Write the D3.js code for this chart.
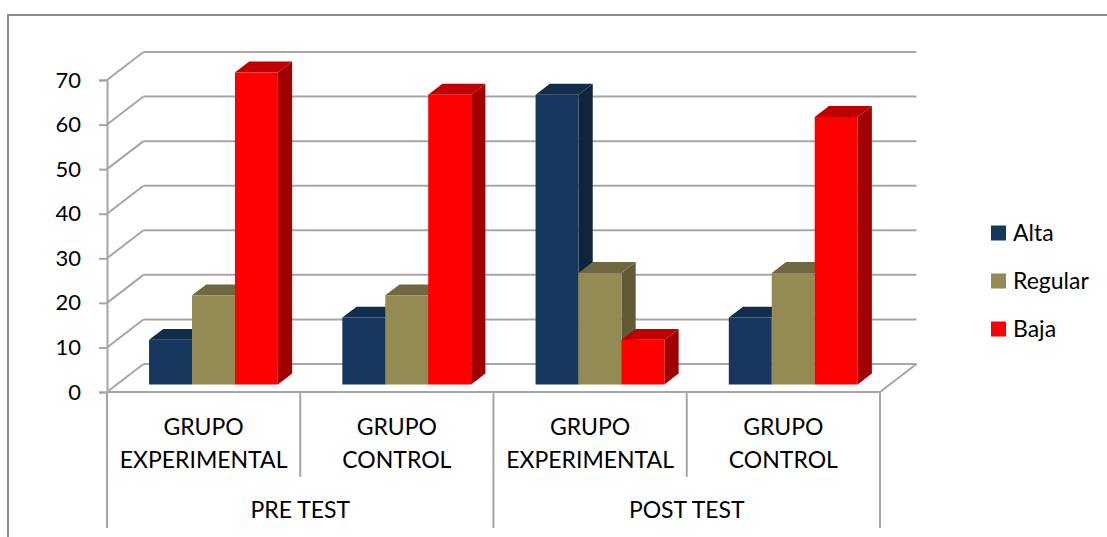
<!DOCTYPE html>
<html>
<head>
<meta charset="utf-8">
<script src="https://cdn.jsdelivr.net/npm/d3@7"></script>
<style>
  body { margin: 0; background: #fff; }
  svg { display: block; font-family: Lato, "Open Sans", sans-serif; }
</style>
</head>
<body>
<svg id="chart" width="1107" height="537"></svg>
<script>
// data
const categoryLabels = [["GRUPO", "EXPERIMENTAL"], ["GRUPO", "CONTROL"], ["GRUPO", "EXPERIMENTAL"], ["GRUPO", "CONTROL"]];
const groupLabels = ["PRE TEST", "POST TEST"];
const seriesNames = ["Alta", "Regular", "Baja"];
const alta = [10, 15, 65, 15];
const regular = [20, 20, 25, 25];
const baja = [70, 65, 10, 60];
const yTicks = [0, 10, 20, 30, 40, 50, 60, 70];

const seriesValues = [alta, regular, baja];
const colors = {
    Alta: { front: "#17375e", top: "#122c4c", side: "#0f243e" },
    Regular: { front: "#948a54", top: "#6f6841", side: "#615a37" },
    Baja: { front: "#ff0000", top: "#c00000", side: "#a00000" }
};

const svg = d3.select("#chart");
const gridColor = "#a6a6a6";

// depth projection
const DX = 36.5, DY = -28;
function proj(x, y, z) { return [x + DX * z, y + DY * z]; }

const x = d3.scaleBand().domain(d3.range(categoryLabels.length)).range([107, 880]);
const xs = d3.scaleBand().domain(seriesNames).range([0, x.bandwidth()]).paddingInner(0).paddingOuter(0.75);
const y = d3.scaleLinear().domain([0, 70]).range([392, 80]);

// outer border
svg.append("path")
    .attr("d", "M8,537 L8,15 L1107,15")
    .attr("fill", "none").attr("stroke", "#8a8a8a").attr("stroke-width", 2);

// back wall gridlines and left wall diagonals
const x0 = x.range()[0], x1 = x.range()[1];
yTicks.forEach(t => {
    const a = proj(x0, y(t), 1), b = proj(x1, y(t), 1);
    svg.append("line").attr("x1", a[0]).attr("y1", a[1]).attr("x2", b[0]).attr("y2", b[1])
        .attr("stroke", gridColor).attr("stroke-width", 2);
    svg.append("line").attr("x1", x0).attr("y1", y(t)).attr("x2", a[0]).attr("y2", a[1])
        .attr("stroke", gridColor).attr("stroke-width", 2);
});

// floor right edge
const fr = proj(x1, y(0), 1);
svg.append("line").attr("x1", x1).attr("y1", y(0)).attr("x2", fr[0]).attr("y2", fr[1])
    .attr("stroke", gridColor).attr("stroke-width", 2);

// y axis
const yAxis = svg.append("g").attr("transform", `translate(${x0},0)`)
    .call(d3.axisLeft(y).tickValues(yTicks).tickSize(8).tickPadding(18));
yAxis.select(".domain").attr("stroke", gridColor).attr("stroke-width", 2);
yAxis.selectAll(".tick line").attr("stroke", gridColor).attr("stroke-width", 2);
yAxis.selectAll(".tick text").attr("font-size", 22).attr("fill", "#000")
    .attr("font-family", "Lato, 'Open Sans', sans-serif");

// bars
const zFront = 0.27, zBack = 0.66;
x.domain().forEach(i => {
    seriesNames.forEach((s, j) => {
        const v = seriesValues[j][i];
        const left = x(i) + xs(s), right = left + xs.bandwidth();
        const yt = y(v), yb = y(0);
        const c = colors[s];
        const fTL = proj(left, yt, zFront), fTR = proj(right, yt, zFront);
        const fBL = proj(left, yb, zFront), fBR = proj(right, yb, zFront);
        const bTL = proj(left, yt, zBack), bTR = proj(right, yt, zBack);
        const bBR = proj(right, yb, zBack);
        const g = svg.append("g");
        g.append("polygon").attr("points", [fTR, bTR, bBR, fBR].join(" ")).attr("fill", c.side);
        g.append("polygon").attr("points", [fTL, bTL, bTR, fTR].join(" ")).attr("fill", c.top);
        g.append("polygon").attr("points", [fTL, fTR, fBR, fBL].join(" ")).attr("fill", c.front);
    });
});

// category axis (front floor edge + dividers)
svg.append("line").attr("x1", x0).attr("y1", y(0)).attr("x2", x1).attr("y2", y(0))
    .attr("stroke", gridColor).attr("stroke-width", 2);
const bounds = x.domain().map(i => x(i)).concat([x1]);
bounds.forEach((b, k) => {
    const isGroup = k % 2 === 0;
    svg.append("line").attr("x1", b).attr("x2", b).attr("y1", y(0)).attr("y2", isGroup ? 528 : 477)
        .attr("stroke", gridColor).attr("stroke-width", 2);
});

// category labels
x.domain().forEach(i => {
    const cx = x(i) + x.bandwidth() / 2;
    categoryLabels[i].forEach((line, k) => {
        svg.append("text").attr("x", cx).attr("y", 427 + k * 33).attr("dy", "0.35em")
            .attr("text-anchor", "middle").attr("font-size", 23).text(line);
    });
});
groupLabels.forEach((gl, k) => {
    const cx = x(k * 2) + x.bandwidth();
    svg.append("text").attr("x", cx).attr("y", 510).attr("dy", "0.35em")
        .attr("text-anchor", "middle").attr("font-size", 23).text(gl);
});

// legend
seriesNames.forEach((s, j) => {
    const cy = 233 + j * 48;
    svg.append("rect").attr("x", 991).attr("y", cy - 7.5).attr("width", 15).attr("height", 15)
        .attr("fill", colors[s].front);
    svg.append("text").attr("x", 1013).attr("y", cy).attr("dy", "0.35em")
        .attr("font-size", 23).text(s);
});
</script>
</body>
</html>
